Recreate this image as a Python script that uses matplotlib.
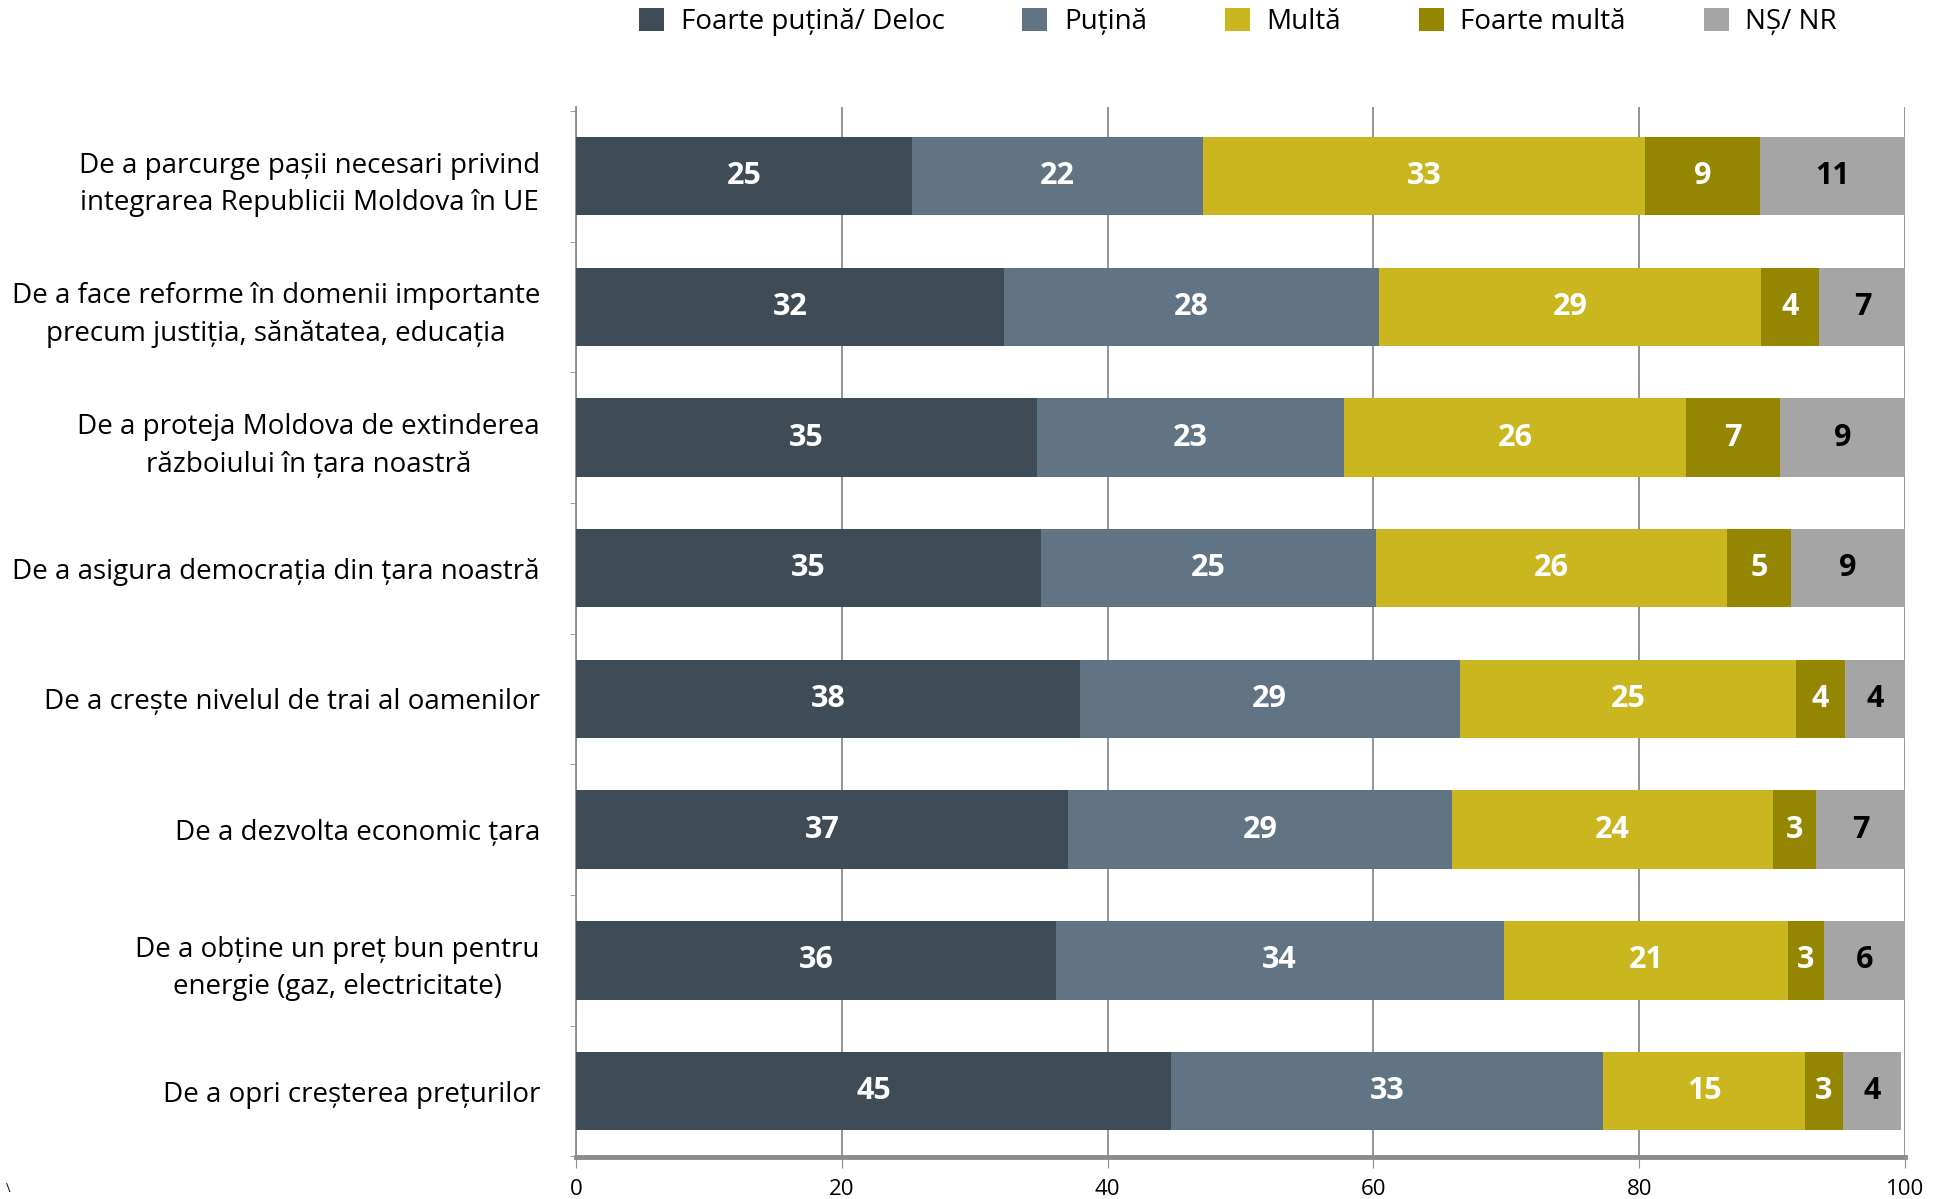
import numpy as np
import matplotlib
matplotlib.use("Agg")
import matplotlib.pyplot as plt
from matplotlib.patches import Patch

plt.rcParams['font.family'] = ['Open Sans', 'DejaVu Sans']

# date
categorii = [
    "De a parcurge pașii necesari privind\nintegrarea Republicii Moldova în UE",
    "De a face reforme în domenii importante\nprecum justiția, sănătatea, educația",
    "De a proteja Moldova de extinderea\nrăzboiului în țara noastră",
    "De a asigura democrația din țara noastră",
    "De a crește nivelul de trai al oamenilor",
    "De a dezvolta economic țara",
    "De a obține un preț bun pentru\nenergie (gaz, electricitate)",
    "De a opri creșterea prețurilor",
]
serii = ["Foarte puțină/ Deloc", "Puțină", "Multă", "Foarte multă", "NȘ/ NR"]
foarte_putina = [25.3, 32.2, 34.7, 35.0, 37.9, 37.0, 36.1, 44.8]
putina = [21.9, 28.2, 23.1, 25.2, 28.6, 28.9, 33.7, 32.5]
multa = [33.2, 28.8, 25.7, 26.4, 25.3, 24.2, 21.4, 15.2]
foarte_multa = [8.7, 4.3, 7.1, 4.8, 3.7, 3.2, 2.7, 2.8]
ns_nr = [10.9, 6.6, 9.4, 8.6, 4.5, 6.7, 6.1, 4.4]
etichete = [
    [25, 22, 33, 9, 11],
    [32, 28, 29, 4, 7],
    [35, 23, 26, 7, 9],
    [35, 25, 26, 5, 9],
    [38, 29, 25, 4, 4],
    [37, 29, 24, 3, 7],
    [36, 34, 21, 3, 6],
    [45, 33, 15, 3, 4],
]

culori = ["#3F4C56", "#607484", "#CAB71F", "#948600", "#A5A5A5"]
culori_text = ["white", "white", "white", "white", "black"]

fig = plt.figure(figsize=(19.46, 11.99), dpi=100)
ax = fig.add_axes([576/1946, 1 - 1157/1199, (1905-576)/1946, (1157-107)/1199])

y = np.arange(len(categorii))
date = [foarte_putina, putina, multa, foarte_multa, ns_nr]
stanga = np.zeros(len(categorii))
for k, vals in enumerate(date):
    vals = np.array(vals)
    ax.barh(y, vals, left=stanga, height=0.6, color=culori[k], zorder=3)
    for i in range(len(categorii)):
        ax.text(stanga[i] + vals[i]/2, y[i], str(etichete[i][k]),
                ha='center', va='center', color=culori_text[k],
                fontsize=22, fontweight='bold', zorder=4)
    stanga += vals

ax.set_xlim(0, 100)
ax.set_ylim(7.505, -0.53)
ax.set_xticks([0, 20, 40, 60, 80, 100])
ax.tick_params(axis='x', labelsize=16, length=8, color='#8c8c8c', pad=8)
ax.set_yticks(y)
ax.set_yticklabels(categorii, fontsize=20, multialignment='center', linespacing=1.45)
ax.tick_params(axis='y', length=0, pad=26)
ax.set_yticks(np.arange(-0.5, len(categorii)), minor=True)
ax.tick_params(axis='y', which='minor', length=4, color='#8c8c8c')
ax.grid(axis='x', color='#8c8c8c', linewidth=1.3, zorder=0)
ax.set_axisbelow(True)
for s in ['top', 'right']:
    ax.spines[s].set_visible(False)
ax.spines['left'].set_color('#8c8c8c')
ax.spines['left'].set_linewidth(1.3)
ax.spines['bottom'].set_color('#8c8c8c')
ax.spines['bottom'].set_linewidth(3.5)

handles = [Patch(facecolor=c) for c in culori]
fig.legend(handles, serii, loc='center', bbox_to_anchor=(1238/1946, 1 - 22/1199),
           ncol=5, frameon=False, fontsize=20, handlelength=0.9, handleheight=0.9,
           columnspacing=2.8, handletextpad=0.6)

fig.text(6/1946, 1 - 1189/1199, "\\", fontsize=9, ha='left', va='center')

fig.savefig("out.png", dpi=100)
